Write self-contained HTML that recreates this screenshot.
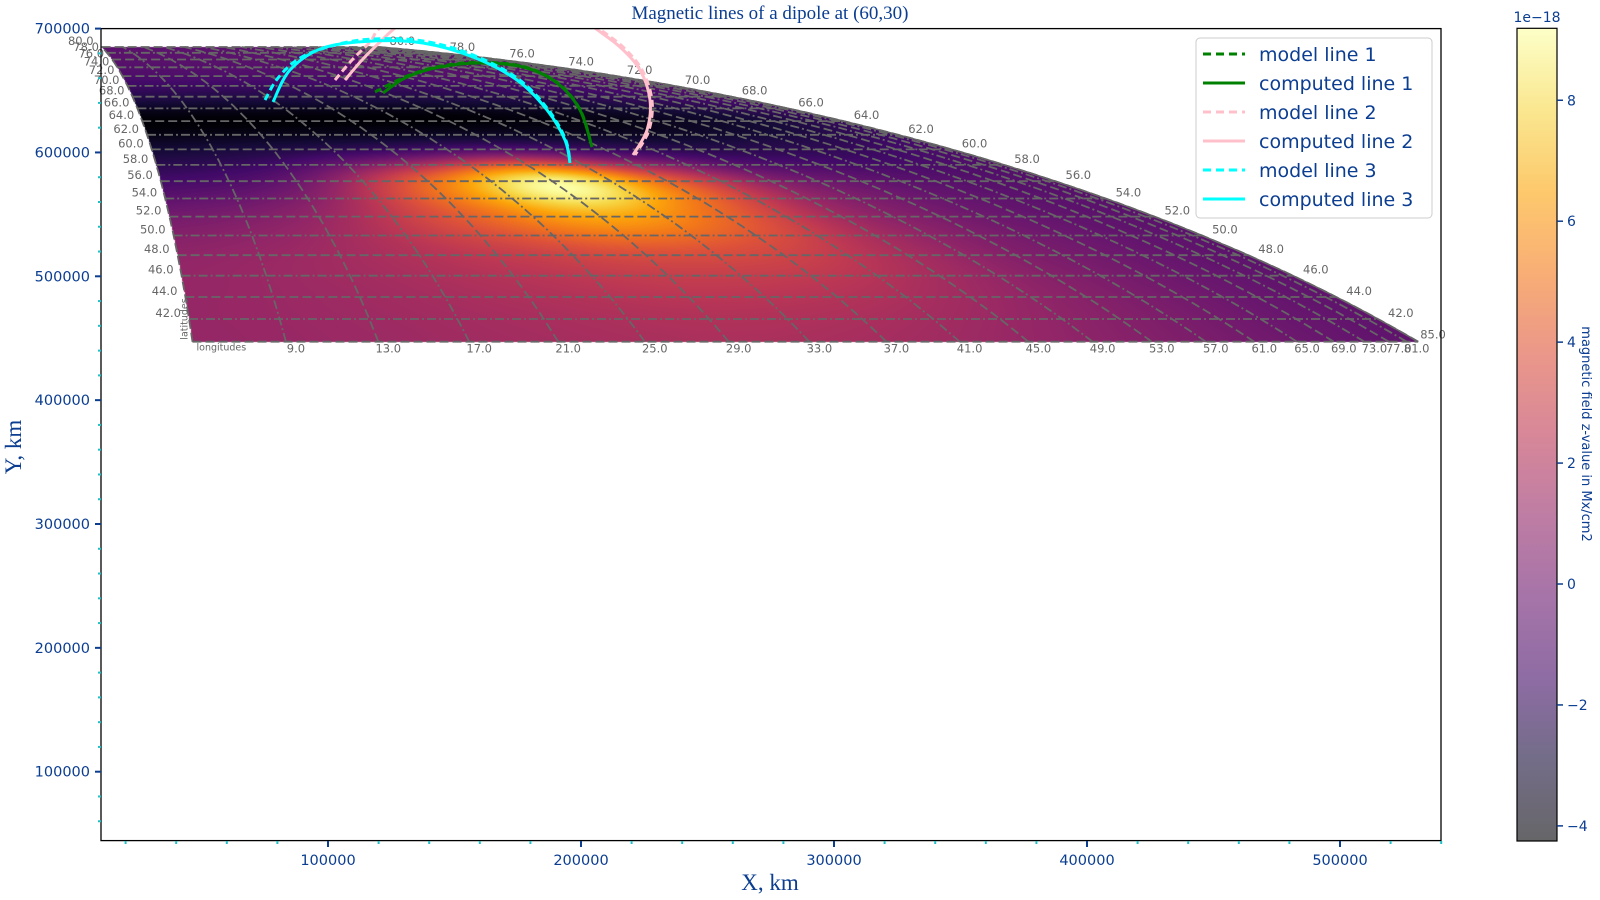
<!DOCTYPE html>
<html><head><meta charset="utf-8">
<style>
html,body{margin:0;padding:0;background:#fff;width:1600px;height:900px;overflow:hidden}
#wrap{position:relative;width:1600px;height:900px}
#mesh{position:absolute;left:0;top:0}
#ov{position:absolute;left:0;top:0}
text{font-family:"DejaVu Sans","Liberation Sans",sans-serif}
</style></head>
<body>
<div id="wrap">
<canvas id="mesh" width="1600" height="900"></canvas>
<svg id="ov" width="1600" height="900" xmlns="http://www.w3.org/2000/svg">
<defs>
<clipPath id="pc"><rect x="101" y="28.6" width="1340" height="812"/></clipPath>
<linearGradient id="cbg" x1="0" y1="1" x2="0" y2="0"></linearGradient>
</defs>
<g id="grid" clip-path="url(#pc)"></g>
<g id="gridlabels"></g>
<g id="lines" clip-path="url(#pc)"></g>
<rect x="101" y="28.6" width="1340" height="812" fill="none" stroke="#000" stroke-width="1.3"/>
<g id="axes"></g>
<text x="770" y="19" text-anchor="middle" font-size="19" fill="#0b3d91" style="font-family:'Liberation Serif',serif">Magnetic lines of a dipole at (60,30)</text>
<text x="770" y="890" text-anchor="middle" font-size="23" fill="#0b3d91" style="font-family:'Liberation Serif',serif">X, km</text>
<text transform="translate(21,447) rotate(-90)" text-anchor="middle" font-size="23" fill="#0b3d91" style="font-family:'Liberation Serif',serif">Y, km</text>
<g id="legend"></g>
<g id="cbar"></g>
</svg>
</div>
<script>
// ---------- data ----------
const R = 695700;
const gridLons = [5,13,21,29,37,45,53,61,69,77,85];
const gridLats = [40,44,48,52,56,60,64,68,72,76,80];
const fieldRow40 = [1.2,1.4,1.7,1.9,1.7,1.2,0.6,0.1,-0.3,-0.5,-0.6];
const fieldRow44 = [1.2,1.5,2.0,2.4,2.2,1.5,0.7,0.1,-0.3,-0.5,-0.6];
const fieldRow48 = [1.0,1.6,2.7,3.6,3.2,1.8,0.6,0.0,-0.4,-0.6,-0.7];
const fieldRow52 = [0.1,1.2,4.2,6.6,4.5,1.6,0.3,-0.3,-0.6,-0.7,-0.8];
const fieldRow56 = [-1.5,-0.2,4.6,8.9,4.5,0.8,-0.4,-0.8,-0.9,-0.9,-0.9];
const fieldRow60 = [-3.0,-2.6,-1.8,-1.0,-1.8,-2.3,-2.2,-2.0,-1.6,-1.3,-1.2];
const fieldRow64 = [-4.2,-4.2,-4.2,-4.2,-4.0,-3.8,-3.4,-3.0,-2.5,-2.0,-1.8];
const fieldRow68 = [-2.4,-2.5,-2.5,-2.5,-2.4,-2.2,-2.0,-1.7,-1.4,-1.2,-1.1];
const fieldRow72 = [-1.2,-1.2,-1.2,-1.2,-1.1,-1.0,-1.0,-0.9,-0.9,-0.9,-0.9];
const fieldRow76 = [-0.8,-0.8,-0.8,-0.8,-0.8,-0.8,-0.8,-0.8,-0.8,-0.8,-0.8];
const fieldRow80 = [-0.7,-0.7,-0.7,-0.7,-0.7,-0.7,-0.7,-0.7,-0.7,-0.7,-0.7];
const fieldRows = [fieldRow40,fieldRow44,fieldRow48,fieldRow52,fieldRow56,fieldRow60,fieldRow64,fieldRow68,fieldRow72,fieldRow76,fieldRow80];
const vmin = -4.25, vmax = 9.19;

const model1X = [118578,131000,144000,160000,177000,190500,199600,204300];
const model1Y = [648810,661500,669500,672800,669500,656500,634800,605000];
const comp1X = [121740,131226,144270,160080,177076,190515,199606,204349];
const comp1Y = [648003,660922,668996,672226,668996,656077,634278,604404];
const model2X = [102768,109487,116601,120554,132412,154152,175891,194863,206721,216603,224113,228066,226880,221346];
const model2Y = [658500,674648,689181,700484,715017,724706,727129,719055,700484,685144,666574,642352,618130,597945];
const comp2X = [106720,113440,120554,126483,136365,156128,175891,193677,205535,215417,223322,227275,226089,220555];
const comp2Y = [658500,674648,689181,700484,715017,724706,727129,719055,700484,685144,666574,642352,618130,597945];
const model3X = [75099,80238,88934,102768,117787,137550,157313,174705,186563,193677,195654];
const model3Y = [642352,660114,676262,686759,691603,689988,678685,660114,635893,611671,593100];
const comp3X = [78262,84981,98024,117787,137550,157313,174705,186563,193677,195654];
const comp3Y = [640737,666574,684336,689988,688373,677070,658500,634278,610056,591485];

const xTicks = [100000,200000,300000,400000,500000];
const yTicks = [100000,200000,300000,400000,500000,600000,700000];
const cbTicks = [-4,-2,0,2,4,6,8];
const latGrid = [40,42,44,46,48,50,52,54,56,58,60,62,64,66,68,70,72,74,76,78,80];
const lonGrid = [5,9,13,17,21,25,29,33,37,41,45,49,53,57,61,65,69,73,77,81,85];
const latLabels = [42,44,46,48,50,52,54,56,58,60,62,64,66,68,70,72,74,76,78,80];
const lonLabels = [9,13,17,21,25,29,33,37,41,45,49,53,57,61,65,69,73,77,81];

// ---------- axes ----------
const sx = X => 75 + X*253/1e5;
const sy = Y => 28.6 + (700000-Y)*123.85/1e5;
const ix = px => (px-75)*1e5/253;
const iy = py => 700000 - (py-28.6)*1e5/123.85;
const rad = Math.PI/180;
function proj(lon,lat){return [R*Math.cos(lat*rad)*Math.sin(lon*rad), R*Math.sin(lat*rad)];}

const infStops=[[0,0,4],[22,11,57],[66,10,104],[106,23,110],[147,38,103],[188,55,84],[221,81,58],[243,120,25],[252,165,10],[246,215,70],[252,255,164]];
function inferno(t){t=Math.max(0,Math.min(1,t));const f=t*10,i=Math.min(9,Math.floor(f)),u=f-i;const a=infStops[i],b=infStops[i+1];return [a[0]+(b[0]-a[0])*u,a[1]+(b[1]-a[1])*u,a[2]+(b[2]-a[2])*u];}
function cr(p0,p1,p2,p3,t){return 0.5*((2*p1)+(-p0+p2)*t+(2*p0-5*p1+4*p2-p3)*t*t+(-p0+3*p1-3*p2+p3)*t*t*t);}
function fieldAt(lon,lat){
  const fx=(lon-gridLons[0])/8, fy=(lat-gridLats[0])/4;
  const nx=gridLons.length, ny=gridLats.length;
  const i=Math.min(nx-2,Math.max(0,Math.floor(fx))), j=Math.min(ny-2,Math.max(0,Math.floor(fy)));
  const tx=fx-i, ty=fy-j;
  const g=(a,b)=>fieldRows[Math.max(0,Math.min(ny-1,b))][Math.max(0,Math.min(nx-1,a))];
  const rows=[];
  for(let k=-1;k<=2;k++) rows.push(cr(g(i-1,j+k),g(i,j+k),g(i+1,j+k),g(i+2,j+k),tx));
  return cr(rows[0],rows[1],rows[2],rows[3],ty);
}
// heatmap
(function(){
  const cv=document.getElementById('mesh'),ctx=cv.getContext('2d');
  const img=ctx.createImageData(1600,900);
  const s40=Math.sin(40*rad),s80=Math.sin(80*rad);
  for(let py=28;py<350;py++){
    const Y=iy(py+0.5), sp=Y/R;
    if(sp<s40||sp>s80) continue;
    const lat=Math.asin(sp)/rad, cp=Math.cos(lat*rad);
    for(let px=101;px<1441;px++){
      const X=ix(px+0.5), sl=X/(R*cp);
      if(sl<-1||sl>1) continue;
      const lon=Math.asin(sl)/rad;
      if(lon<5||lon>85) continue;
      const v=fieldAt(lon,lat);
      const c=inferno((v-vmin)/(vmax-vmin));
      const k=(py*1600+px)*4;
      img.data[k]=c[0];img.data[k+1]=c[1];img.data[k+2]=c[2];img.data[k+3]=255;
    }
  }
  ctx.putImageData(img,0,0);
})();

const NS='http://www.w3.org/2000/svg';
function mk(tag,attrs,parent){const e=document.createElementNS(NS,tag);for(const k in attrs)e.setAttribute(k,attrs[k]);parent.appendChild(e);return e;}
function smoothPath(P){
  let d='M'+P[0][0].toFixed(1)+','+P[0][1].toFixed(1);
  for(let i=0;i<P.length-1;i++){
    const p0=P[Math.max(0,i-1)],p1=P[i],p2=P[i+1],p3=P[Math.min(P.length-1,i+2)];
    const c1=[p1[0]+(p2[0]-p0[0])/6,p1[1]+(p2[1]-p0[1])/6];
    const c2=[p2[0]-(p3[0]-p1[0])/6,p2[1]-(p3[1]-p1[1])/6];
    d+=' C'+c1[0].toFixed(1)+','+c1[1].toFixed(1)+' '+c2[0].toFixed(1)+','+c2[1].toFixed(1)+' '+p2[0].toFixed(1)+','+p2[1].toFixed(1);
  }
  return d;
}

// grid lines
const gridG=document.getElementById('grid');
latGrid.forEach((lat,i)=>{
  const pts=[];for(let lon=5;lon<=85;lon+=1){const p=proj(lon,lat);pts.push(sx(p[0]).toFixed(1)+','+sy(p[1]).toFixed(1));}
  const e=mk('polyline',{points:pts.join(' '),fill:'none',stroke:'#666','stroke-width':1.8,'stroke-dasharray':i%2?'9,3,2,3':'9,4'},gridG);
  
  
});
lonGrid.forEach((lon,i)=>{
  const pts=[];for(let lat=40;lat<=80;lat+=0.5){const p=proj(lon,lat);pts.push(sx(p[0]).toFixed(1)+','+sy(p[1]).toFixed(1));}
  const e=mk('polyline',{points:pts.join(' '),fill:'none',stroke:'#666','stroke-width':1.8,'stroke-dasharray':i%2?'9,3,2,3':'9,4'},gridG);
  
  
});
{const pts=[];for(let lat=40;lat<=80;lat+=0.5){const p=proj(85,lat);pts.push(sx(p[0]).toFixed(1)+','+sy(p[1]).toFixed(1));}
const e=mk('polyline',{points:pts.join(' '),fill:'none',stroke:'#666','stroke-width':1.5},gridG);

}

// grid labels
const glG=document.getElementById('gridlabels');
latLabels.forEach(lat=>{
  let p=proj(5,lat);
  let t=mk('text',{x:(sx(p[0])-8).toFixed(1),y:(sy(p[1])-2).toFixed(1),'text-anchor':'end','font-size':11.5,fill:'#666'},glG);
  t.textContent=lat.toFixed(1);
  
  
  p=proj(85,lat);
  t=mk('text',{x:(sx(p[0])+10).toFixed(1),y:(sy(p[1])-2).toFixed(1),'text-anchor':'start','font-size':11.5,fill:'#666'},glG);
  t.textContent=lat.toFixed(1);
  
  
});
lonLabels.forEach(lon=>{
  const p=proj(lon,40);
  const t=mk('text',{x:(sx(p[0])+10).toFixed(1),y:(sy(p[1])+11).toFixed(1),'text-anchor':'middle','font-size':11.5,fill:'#666'},glG);
  t.textContent=lon.toFixed(1);
  
  
});
{const p=proj(85,40);
const t=mk('text',{x:(sx(p[0])+2).toFixed(1),y:(sy(p[1])-3).toFixed(1),'text-anchor':'start','font-size':11.5,fill:'#666'},glG);
t.textContent='85.0';


const p5=proj(5,40);
const t2=mk('text',{x:(sx(p5[0])+4).toFixed(1),y:(sy(p5[1])+9).toFixed(1),'font-size':9.5,fill:'#666'},glG);
t2.textContent='longitudes';


const t3=mk('text',{transform:'translate('+(sx(p5[0])-5).toFixed(1)+','+(sy(p5[1])-2).toFixed(1)+') rotate(-90)','font-size':9.5,fill:'#666'},glG);
t3.textContent='latitudes';

}

// field lines
const linesG=document.getElementById('lines');
const series=[
 ['model-line-1',model1X,model1Y,'#008000','7,4'],
 ['computed-line-1',comp1X,comp1Y,'#008000',null],
 ['model-line-2',model2X,model2Y,'#ffc0cb','7,4'],
 ['computed-line-2',comp2X,comp2Y,'#ffc0cb',null],
 ['model-line-3',model3X,model3Y,'#00ffff','7,4'],
 ['computed-line-3',comp3X,comp3Y,'#00ffff',null]];
series.forEach(s=>{
  const P=s[1].map((x,i)=>[sx(x),sy(s[2][i])]);
  const a={d:smoothPath(P),fill:'none',stroke:s[3],'stroke-width':3,'stroke-linejoin':'round'};
  if(s[4])a['stroke-dasharray']=s[4];
  const e=mk('path',a,linesG);
  
  
});

// axes ticks
const axG=document.getElementById('axes');
const tc='#0b3d91';
xTicks.forEach(v=>{
  const x=sx(v);
  const l=mk('line',{x1:x,x2:x,y1:841,y2:847,stroke:tc,'stroke-width':2},axG);
  
  
  const t=mk('text',{x:x,y:865,'text-anchor':'middle','font-size':14.5,fill:tc},axG);
  t.textContent=v;
  
  
});
for(let v=20000;v<=540000;v+=20000){if(v%100000===0)continue;const x=sx(v);
  const l=mk('line',{x1:x,x2:x,y1:841,y2:844,stroke:'#20c0c8','stroke-width':2},axG);
  
  }
yTicks.forEach(v=>{
  const y=sy(v);
  const l=mk('line',{x1:95,x2:101,y1:y,y2:y,stroke:tc,'stroke-width':2},axG);
  
  
  const t=mk('text',{x:90,y:y+5,'text-anchor':'end','font-size':14.5,fill:tc},axG);
  t.textContent=v;
  
  
});
for(let v=60000;v<700000;v+=20000){if(v%100000===0)continue;const y=sy(v);
  const l=mk('line',{x1:98,x2:101,y1:y,y2:y,stroke:'#20c0c8','stroke-width':2},axG);
  
  }

// legend
const lg=document.getElementById('legend');
{const b=mk('rect',{x:1196,y:38,width:236,height:180,rx:4,fill:'#fff','fill-opacity':0.85,stroke:'#ccc','stroke-width':1},lg);

}
const legLabels=['model line 1','computed line 1','model line 2','computed line 2','model line 3','computed line 3'];
series.forEach((s,i)=>{
  const y=54+i*29;
  const a={x1:1203,x2:1245,y1:y,y2:y,stroke:s[3],'stroke-width':3};
  if(s[4])a['stroke-dasharray']='8,5';
  const l=mk('line',a,lg);
  
  
  const t=mk('text',{x:1259,y:y+7,'font-size':19,fill:tc},lg);
  t.textContent=legLabels[i];
  
  
});

// colorbar
const cb=document.getElementById('cbar');
const grad=document.getElementById('cbg');
for(let k=0;k<=20;k++){const c=inferno(k/20);const m=c.map(v=>Math.round(v*0.6+255*0.4));
  mk('stop',{offset:(k/20),'stop-color':'rgb('+m.join(',')+')'},grad);}
const cbTop=28.3,cbBot=841,cbY=v=>cbBot-(v-vmin)/(vmax-vmin)*(cbBot-cbTop);
{const r=mk('rect',{x:1517,y:cbTop,width:40,height:cbBot-cbTop,fill:'url(#cbg)',stroke:'#000','stroke-width':1.2},cb);

}
cbTicks.forEach(v=>{
  const y=cbY(v);
  const l=mk('line',{x1:1557,x2:1563,y1:y,y2:y,stroke:tc,'stroke-width':1.5},cb);
  
  
  const t=mk('text',{x:1567,y:y+5,'font-size':14,fill:tc},cb);
  t.textContent=v<0?'\u2212'+(-v):String(v);
  
  
});
{const t=mk('text',{x:1537,y:22,'text-anchor':'middle','font-size':14,fill:tc},cb);
t.textContent='1e\u221218';


const t2=mk('text',{transform:'translate(1582,434) rotate(90)','text-anchor':'middle','font-size':13,fill:tc},cb);
t2.textContent='magnetic field z-value in Mx/cm2';

}
</script>
</body></html>
